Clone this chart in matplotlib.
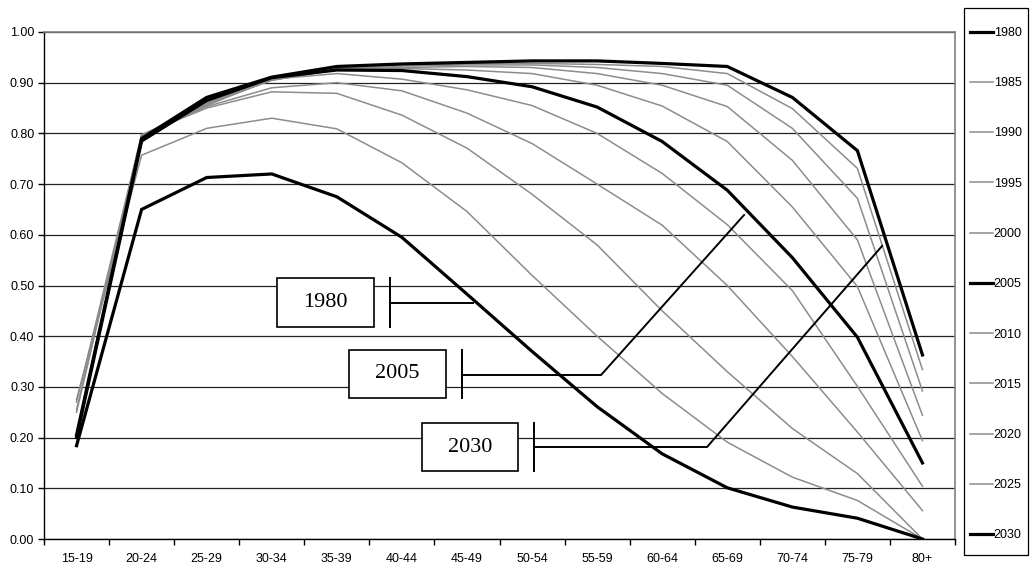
import matplotlib
matplotlib.use("Agg")
import matplotlib.pyplot as plt
from matplotlib.patches import Rectangle
from matplotlib.lines import Line2D

categories = ["15-19", "20-24", "25-29", "30-34", "35-39", "40-44", "45-49",
              "50-54", "55-59", "60-64", "65-69", "70-74", "75-79", "80+"]

years = ["1980", "1985", "1990", "1995", "2000", "2005",
         "2010", "2015", "2020", "2025", "2030"]

s1980 = [0.184, 0.650, 0.713, 0.720, 0.675, 0.595, 0.483, 0.370, 0.261, 0.168, 0.101, 0.063, 0.041, 0.000]
s1985 = [0.275, 0.757, 0.810, 0.830, 0.809, 0.742, 0.646, 0.520, 0.400, 0.287, 0.191, 0.122, 0.076, 0.000]
s1990 = [0.270, 0.797, 0.850, 0.882, 0.879, 0.836, 0.771, 0.680, 0.580, 0.450, 0.330, 0.218, 0.129, 0.000]
s1995 = [0.255, 0.797, 0.853, 0.890, 0.900, 0.884, 0.840, 0.780, 0.700, 0.619, 0.500, 0.360, 0.211, 0.056]
s2000 = [0.250, 0.797, 0.855, 0.907, 0.918, 0.907, 0.886, 0.855, 0.800, 0.721, 0.620, 0.490, 0.301, 0.104]
s2005 = [0.200, 0.785, 0.865, 0.910, 0.925, 0.924, 0.912, 0.892, 0.852, 0.784, 0.688, 0.555, 0.398, 0.150]
s2010 = [0.200, 0.795, 0.858, 0.905, 0.926, 0.928, 0.925, 0.918, 0.895, 0.854, 0.784, 0.655, 0.498, 0.194]
s2015 = [0.200, 0.795, 0.858, 0.905, 0.926, 0.930, 0.932, 0.930, 0.918, 0.895, 0.853, 0.747, 0.590, 0.244]
s2020 = [0.200, 0.795, 0.860, 0.905, 0.927, 0.933, 0.935, 0.935, 0.930, 0.918, 0.895, 0.810, 0.672, 0.292]
s2025 = [0.200, 0.795, 0.862, 0.907, 0.928, 0.935, 0.937, 0.938, 0.936, 0.932, 0.918, 0.849, 0.731, 0.334]
s2030 = [0.205, 0.790, 0.871, 0.911, 0.932, 0.937, 0.940, 0.943, 0.943, 0.938, 0.932, 0.871, 0.766, 0.363]

series = [s1980, s1985, s1990, s1995, s2000, s2005, s2010, s2015, s2020, s2025, s2030]
highlight = ["1980", "2005", "2030"]

callout_labels = ["1980", "2005", "2030"]

plt.rcParams['font.family'] = ['Liberation Sans', 'DejaVu Sans']

W, H = 1031, 567
fig = plt.figure(figsize=(W / 100, H / 100), dpi=100)
ax_l, ax_r, ax_t, ax_b = 44, 955, 32, 539
ax = fig.add_axes([ax_l / W, 1 - ax_b / H, (ax_r - ax_l) / W, (ax_b - ax_t) / H])

x = list(range(len(categories)))
order = [i for i, y in enumerate(years) if y not in highlight] + \
        [i for i, y in enumerate(years) if y in highlight]
for i in order:
    y = years[i]
    if y in highlight:
        ax.plot(x, series[i], color='black', lw=2.3, solid_joinstyle='miter', zorder=4)
    else:
        ax.plot(x, series[i], color='#8c8c8c', lw=1.1, zorder=3)

ax.set_xlim(-0.5, len(categories) - 0.5)
ax.set_ylim(0, 1.0)
ax.set_yticks([i / 10 for i in range(11)])
ax.set_yticklabels([f"{i / 10:.2f}" for i in range(11)], fontsize=9)
ax.set_xticks([i - 0.5 for i in range(len(categories) + 1)])
ax.set_xticklabels([])
ax.set_xticks(x, minor=True)
ax.set_xticklabels(categories, minor=True, fontsize=9)
ax.tick_params(axis='x', which='minor', length=0, pad=10)
ax.tick_params(axis='x', which='major', length=4, width=1, color='black', direction='out')
ax.tick_params(axis='y', length=4, width=1, color='black', direction='out', pad=3)
ax.grid(axis='y', color='#222222', lw=0.9, zorder=1)
ax.set_axisbelow(True)
for side in ['top', 'right']:
    ax.spines[side].set_color('#808080')
    ax.spines[side].set_linewidth(1.2)
for side in ['left', 'bottom']:
    ax.spines[side].set_color('black')
    ax.spines[side].set_linewidth(1.0)


def px2x(px):
    return (px - 76.5) / 65.07


def px2y(py):
    return (ax_b - py) / (ax_b - ax_t)


callouts = [
    (277, 278, 374, 327, 390, [(390, 303), (473, 303)]),
    (349, 350, 446, 398, 462, [(462, 375), (601, 375), (744, 215)]),
    (422, 423, 518, 471, 534, [(534, 447), (707, 447), (882, 246)]),
]
for lab, (bl, bt, br, bb, bx, pts) in zip(callout_labels, callouts):
    rect = Rectangle((px2x(bl), px2y(bb)), px2x(br) - px2x(bl), px2y(bt) - px2y(bb),
                     facecolor='white', edgecolor='black', lw=1.2, zorder=6)
    ax.add_patch(rect)
    ax.text((px2x(bl) + px2x(br)) / 2, (px2y(bt) + px2y(bb)) / 2, lab,
            family='Liberation Serif', fontsize=16, ha='center', va='center', zorder=7)
    ax.plot([px2x(bx), px2x(bx)], [px2y(bt), px2y(bb)], color='black', lw=1.4, zorder=6)
    ax.plot([px2x(p[0]) for p in pts], [px2y(p[1]) for p in pts], color='black', lw=1.4,
            zorder=6, solid_joinstyle='miter')

fig.patches.append(Rectangle((964 / W, 1 - 555 / H), 64 / W, 547 / H, transform=fig.transFigure,
                             facecolor='white', edgecolor='black', lw=0.9))
leg_handles = [Line2D([], [], color='black' if y in highlight else '#8c8c8c',
                      lw=2.3 if y in highlight else 1.1) for y in years]
fig.legend(leg_handles, years, loc='upper left', bbox_to_anchor=(970 / W, 1 - 27 / H),
           frameon=False, fontsize=9, handlelength=1.8, handletextpad=0.1,
           labelspacing=3.06, borderpad=0, borderaxespad=0)

fig.savefig("out.png", dpi=100)
